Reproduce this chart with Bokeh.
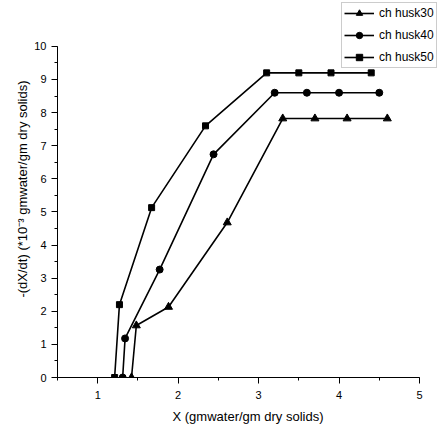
from bokeh.plotting import figure
from bokeh.models import Range1d, SingleIntervalTicker, Legend, LegendItem, Title
from bokeh.embed import file_html
from bokeh.resources import INLINE

# Data
x_husk30 = [1.42, 1.48, 1.88, 2.61, 3.30, 3.70, 4.10, 4.60]
y_husk30 = [0.0, 1.57, 2.13, 4.68, 7.82, 7.82, 7.82, 7.82]
x_husk40 = [1.31, 1.34, 1.77, 2.44, 3.20, 3.60, 4.00, 4.50]
y_husk40 = [0.0, 1.18, 3.26, 6.74, 8.60, 8.60, 8.60, 8.60]
x_husk50 = [1.21, 1.27, 1.67, 2.34, 3.10, 3.50, 3.90, 4.40]
y_husk50 = [0.0, 2.20, 5.13, 7.60, 9.20, 9.20, 9.20, 9.20]
series_names = ["ch husk30", "ch husk40", "ch husk50"]
x_axis_bounds = (0.5, 5)
y_axis_bounds = (0, 10)

FONT = "Liberation Sans"

# frame: left 57, bottom 378; axis x 0.5..5 spans 57..419, y 0..10 spans 378..46
# the frame is extended to the figure's right and top edges so the legend is not clipped
x_end = 5 + (438 - 419) / ((419 - 57) / 4.5)
y_end = 10 + 46 / ((378 - 46) / 10)

p = figure(width=438, height=426, output_backend="svg", toolbar_location=None,
           x_range=Range1d(0.5, x_end), y_range=Range1d(0, y_end),
           min_border_left=57, min_border_right=0, min_border_top=0, min_border_bottom=48)
p.outline_line_color = None
p.xgrid.visible = False
p.ygrid.visible = False

p.xaxis.ticker = SingleIntervalTicker(interval=1, num_minor_ticks=2)
p.yaxis.ticker = SingleIntervalTicker(interval=1, num_minor_ticks=2)
p.xaxis.bounds = x_axis_bounds
p.yaxis.bounds = y_axis_bounds
for ax in (p.xaxis, p.yaxis):
    ax.axis_line_color = "black"
    ax.axis_line_width = 1
    ax.major_tick_line_color = "black"
    ax.minor_tick_line_color = "black"
    ax.major_tick_in = 0
    ax.major_tick_out = 6
    ax.minor_tick_in = 0
    ax.minor_tick_out = 3
    ax.major_label_text_font = FONT
    ax.major_label_text_font_size = "11px"
    ax.major_label_text_color = "black"
p.yaxis.major_label_standoff = 5
p.xaxis.major_label_standoff = 7

p.xaxis.axis_label = "X (gmwater/gm dry solids)"
p.xaxis.axis_label_text_font = FONT
p.xaxis.axis_label_text_font_size = "13px"
p.xaxis.axis_label_text_font_style = "normal"
p.xaxis.axis_label_text_color = "black"
p.xaxis.axis_label_standoff = 7

ytitle = Title(text="-(dX/dt) (*10\u207b\u00b3 gmwater/gm dry solids)", align="center", offset=8,
               text_font=FONT, text_font_size="13px", text_font_style="normal",
               text_color="black", standoff=3)
p.add_layout(ytitle, "left")

lw = 1.6
r30l = p.line(x_husk30, y_husk30, line_color="black", line_width=lw)
r30m = p.scatter(x_husk30, y_husk30, marker="triangle", size=8, color="black")
r40l = p.line(x_husk40, y_husk40, line_color="black", line_width=lw)
r40m = p.scatter(x_husk40, y_husk40, marker="circle", size=7, color="black")
r50l = p.line(x_husk50, y_husk50, line_color="black", line_width=lw)
r50m = p.scatter(x_husk50, y_husk50, marker="square", size=6, color="black")

legend = Legend(items=[
    LegendItem(label=series_names[0], renderers=[r30l, r30m]),
    LegendItem(label=series_names[1], renderers=[r40l, r40m]),
    LegendItem(label=series_names[2], renderers=[r50l, r50m]),
], location=(284, 309))
legend.border_line_color = "#999999"
legend.border_line_width = 1
legend.background_fill_color = "white"
legend.background_fill_alpha = 1
legend.label_text_font = FONT
legend.label_text_font_size = "12px"
legend.label_text_color = "black"
legend.glyph_width = 30
legend.glyph_height = 16
legend.label_height = 16
legend.label_standoff = 5
legend.spacing = 6
legend.padding = 2
legend.margin = 0
p.add_layout(legend, "center")

open("out.html", "w").write(file_html(p, INLINE))
